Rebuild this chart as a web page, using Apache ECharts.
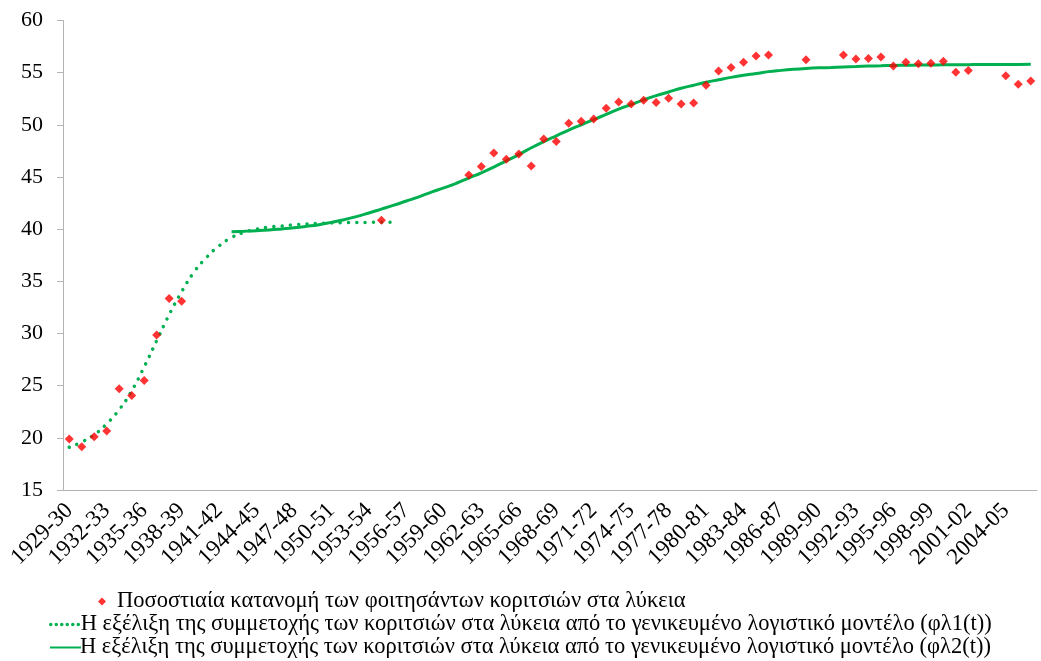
<!DOCTYPE html>
<html>
<head>
<meta charset="utf-8">
<script src="https://cdn.jsdelivr.net/npm/echarts@6/dist/echarts.min.js"></script>
<style>
html,body{margin:0;padding:0;background:#fff;}
#chart{width:1041px;height:661px;}
</style>
</head>
<body>
<div id="chart"></div>
<script>
const categories = ['1929-30','1930-31','1931-32','1932-33','1933-34','1934-35','1935-36','1936-37','1937-38','1938-39',
'1939-40','1940-41','1941-42','1942-43','1943-44','1944-45','1945-46','1946-47','1947-48','1948-49',
'1949-50','1950-51','1951-52','1952-53','1953-54','1954-55','1955-56','1956-57','1957-58','1958-59',
'1959-60','1960-61','1961-62','1962-63','1963-64','1964-65','1965-66','1966-67','1967-68','1968-69',
'1969-70','1970-71','1971-72','1972-73','1973-74','1974-75','1975-76','1976-77','1977-78','1978-79',
'1979-80','1980-81','1981-82','1982-83','1983-84','1984-85','1985-86','1986-87','1987-88','1988-89',
'1989-90','1990-91','1991-92','1992-93','1993-94','1994-95','1995-96','1996-97','1997-98','1998-99',
'1999-00','2000-01','2001-02','2002-03','2003-04','2004-05','2005-06','2006-07'];

const observed = [19.9,19.15,20.1,20.65,24.7,24.05,25.5,29.85,33.35,33.1,
null,null,null,null,null,null,null,null,null,null,
null,null,null,null,null,40.85,null,null,null,null,
null,null,45.2,46.0,47.3,46.7,47.2,46.05,48.65,48.4,
50.15,50.35,50.55,51.6,52.2,52.0,52.35,52.15,52.55,52.0,
52.1,53.8,55.15,55.5,56.0,56.6,56.7,null,null,56.25,
null,null,56.7,56.3,56.35,56.5,55.65,56.0,55.85,55.9,
56.1,55.05,55.2,null,null,54.7,53.9,54.2];

const model1 = [19.1,19.6,20.3,21.35,22.7,24.5,26.8,29.3,31.8,34.0,
35.9,37.3,38.4,39.2,39.7,40.0,40.2,40.3,40.42,40.5,
40.56,40.6,40.62,40.64,40.65,40.66,40.67];

const model2 = [null,null,null,null,null,null,null,null,null,null,
null,null,null,39.76,39.8,39.85,39.92,40.02,40.13,40.27,
40.43,40.65,40.9,41.2,41.55,41.92,42.3,42.7,43.1,43.55,
43.95,44.4,44.9,45.4,45.95,46.55,47.15,47.8,48.4,48.95,
49.5,50.0,50.5,51.0,51.5,51.95,52.4,52.8,53.15,53.5,
53.8,54.08,54.32,54.55,54.75,54.92,55.1,55.22,55.32,55.4,
55.46,55.5,55.55,55.59,55.63,55.66,55.69,55.71,55.73,55.74,
55.75,55.76,55.77,55.78,55.78,55.79,55.79,55.8];

const names = ['Ποσοστιαία κατανομή των φοιτησάντων κοριτσιών στα λύκεια',
'Η εξέλιξη της συμμετοχής των κοριτσιών στα λύκεια από το γενικευμένο λογιστικό μοντέλο (φλ1(t))',
'Η εξέλιξη της συμμετοχής των κοριτσιών στα λύκεια από το γενικευμένο λογιστικό μοντέλο (φλ2(t))'];

const font = '"Liberation Serif", serif';
const axisColor = '#b3b3b3';
const green = '#00b050';
const legendText = {fontFamily: font, fontSize: 22.5, color: '#000'};

const chart = echarts.init(document.getElementById('chart'), null, {renderer: 'canvas'});
chart.setOption({
  animation: false,
  backgroundColor: '#fff',
  grid: {left: 63, right: 4, top: 20.5, bottom: 171, containLabel: false},
  xAxis: {
    type: 'category',
    data: categories,
    boundaryGap: true,
    axisLine: {lineStyle: {color: axisColor, width: 1}},
    axisTick: {interval: 0, length: 6, lineStyle: {color: axisColor}},
    axisLabel: {interval: 2, rotate: 45, margin: 17, fontFamily: font, fontSize: 23, color: '#000'},
    splitLine: {show: false}
  },
  yAxis: {
    type: 'value',
    min: 15, max: 60, interval: 5,
    axisLine: {show: true, lineStyle: {color: axisColor, width: 1}},
    axisTick: {show: true, length: 6, lineStyle: {color: axisColor}},
    axisLabel: {margin: 20, fontFamily: font, fontSize: 22, color: '#000'},
    splitLine: {show: false}
  },
  legend: [
    {data: [names[0]], left: 93, top: 585, orient: 'vertical', itemWidth: 8, itemHeight: 8,
     textStyle: Object.assign({padding: [0,0,0,6]}, legendText)},
    {data: [names[1]], left: 44, top: 608, orient: 'vertical', itemWidth: 31, itemHeight: 14, itemGap: 0,
     itemStyle: {opacity: 0},
     lineStyle: {type: [0.01, 5.5], width: 3.5, cap: 'round'},
     textStyle: Object.assign({padding: [0,0,0,-6]}, legendText)},
    {data: [names[2]], left: 44, top: 631, orient: 'vertical', itemWidth: 31, itemHeight: 14, itemGap: 0,
     itemStyle: {opacity: 0},
     textStyle: Object.assign({padding: [0,0,0,-6]}, legendText)}
  ],
  series: [
    {
      name: names[1], type: 'line', data: model1, symbol: 'none', smooth: true, z: 2,
      lineStyle: {color: green, width: 3.5, type: [0.01, 8.3], cap: 'round'},
      itemStyle: {color: green}
    },
    {
      name: names[2], type: 'line', data: model2, symbol: 'none', smooth: true, z: 3,
      lineStyle: {color: green, width: 3},
      itemStyle: {color: green}
    },
    {
      name: names[0], type: 'scatter', data: observed, symbol: 'diamond', symbolSize: 9, z: 4,
      itemStyle: {color: '#ff0000'}
    }
  ]
});
</script>
</body>
</html>
